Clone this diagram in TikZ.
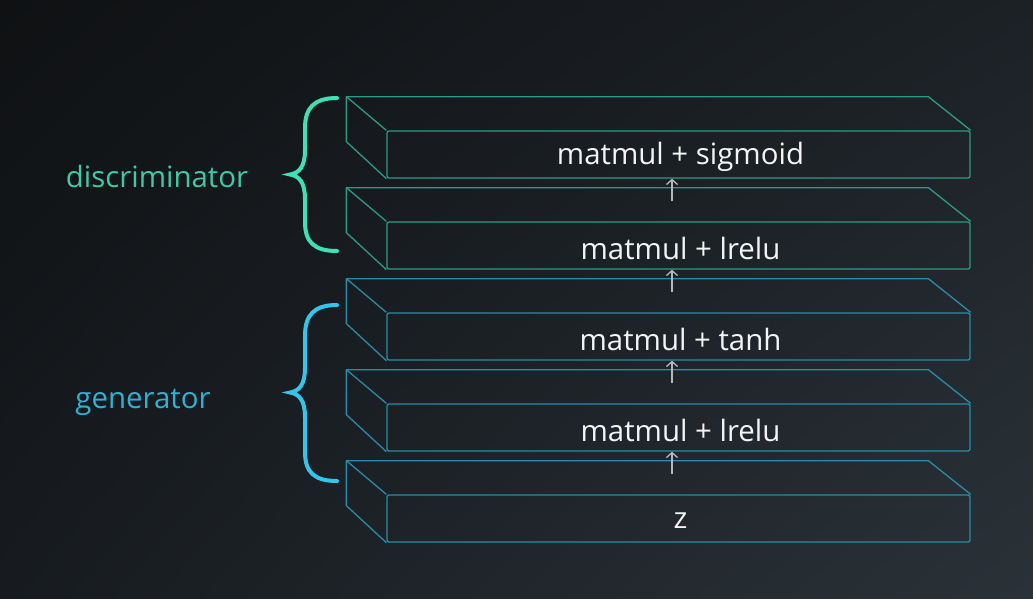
\documentclass[tikz,border=0pt]{standalone}
\usepackage{fontspec}
\setmainfont{Open Sans}
\usetikzlibrary{arrows.meta,calc,shadings}
\definecolor{bgtl}{HTML}{0F1113}
\definecolor{bgtr}{HTML}{1C2126}
\definecolor{bgbl}{HTML}{171B1F}
\definecolor{bgbr}{HTML}{2A3239}
\definecolor{dgreen}{HTML}{2A9C86}
\definecolor{gblue}{HTML}{2A8CA6}
\definecolor{dlabel}{HTML}{3CCBA6}
\definecolor{glabel}{HTML}{2EB2D4}
\definecolor{dbrace}{HTML}{3EE0B6}
\definecolor{gbrace}{HTML}{33C6EA}
\definecolor{arrgray}{HTML}{B4B8BC}
\definecolor{txt}{HTML}{F4F4F4}
\tikzset{
  face/.style={draw=#1, line width=1.3pt, rounded corners=2pt, minimum width=583pt, minimum height=47pt, inner sep=0pt},
  facetext/.style={text=txt, font=\fontsize{29.4}{34}\selectfont, inner sep=0pt},
  slabedge/.style={draw=#1, line width=1.3pt, line join=round},
  flow/.style={draw=arrgray, line width=1.3pt, -{Straight Barb[length=5pt,width=11pt,line width=1.3pt]}},
  bracestyle/.style={draw=#1, line width=4pt, line cap=round},
  lab/.style={font=\fontsize{29.4}{34}\selectfont, text=#1}
}
\begin{document}
\begin{tikzpicture}[x=1pt,y=-1pt]
\useasboundingbox (0,0) rectangle (1033,598);
\shade[upper left=bgtl, upper right=bgtr, lower left=bgbl, lower right=bgbr] (0,0) rectangle (1033,598);
% slabs: back top y0 = 95,186,277,368,459 ; front face y0+36 .. y0+83
\foreach \i/\yy/\c/\t in {1/95/dgreen/{matmul + sigmoid},2/186/dgreen/{matmul + lrelu},3/277/gblue/{matmul + tanh},4/368/gblue/{matmul + lrelu},5/459/gblue/{z}}{
  \node[face=\c] (f\i) at (678.5,\yy+59.5) {};
  \node[facetext] (t\i) at ($(f\i.center)+(2,2.5)$) {\t};
  \draw[slabedge=\c] (f\i.south west) -- ++(-40,-37) -- ++(0,-45) coordinate (b\i) -- ++(582,0) -- (f\i.north east);
  \draw[slabedge=\c] (b\i) -- (f\i.north west);
}
% arrows
\foreach \a/\b in {2/1,3/2,4/3,5/4}{
  \draw[flow] ($(f\a.north)+(-6.5,-20)$) -- ($(f\b.south)+(-6.5,0)$);
}
% braces
\draw[bracestyle=dbrace] (337,98) .. controls (314,98) and (305,108) .. (305,128) -- (305,150) .. controls (305,167) and (299,173) .. (290,174.5) .. controls (299,176) and (305,182) .. (305,199) -- (305,222) .. controls (305,242) and (314,251) .. (337,251);
\draw[bracestyle=gbrace] (337,305) .. controls (314,305) and (305,315) .. (305,336) -- (305,368) .. controls (305,385) and (299,391) .. (290,392.5) .. controls (299,394) and (305,400) .. (305,417) -- (305,452) .. controls (305,472) and (314,481) .. (337,481);
% labels
\node[lab=dlabel] (dl) at (157,176) {discriminator};
\node[lab=glabel] (gl) at (143,402) {generator};
\end{tikzpicture}
\end{document}
